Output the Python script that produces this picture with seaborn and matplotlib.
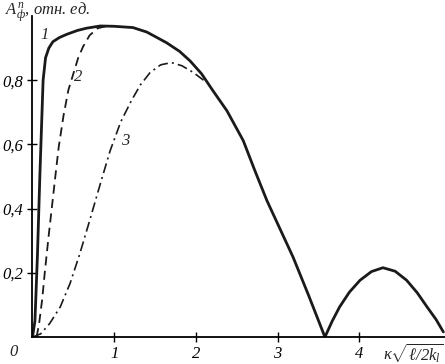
import matplotlib
matplotlib.use("Agg")
import matplotlib.pyplot as plt
import pandas as pd
import seaborn as sns

# curve 1 (solid)
x1 = [0.0, 0.03, 0.06, 0.09, 0.11, 0.13, 0.16, 0.2, 0.25, 0.33, 0.42, 0.55, 0.66, 0.83, 1.0, 1.23,
      1.4, 1.64, 1.8, 1.93, 2.07, 2.21, 2.38, 2.58, 2.72, 2.87, 3.03, 3.19, 3.38, 3.58,
      3.67, 3.76, 3.88, 4.01, 4.15, 4.29, 4.44, 4.58, 4.71, 4.83, 4.94, 5.03]
y1 = [0.0, 0.05, 0.25, 0.5, 0.65, 0.8, 0.87, 0.9, 0.92, 0.933, 0.943, 0.955, 0.962, 0.969, 0.968, 0.964,
      0.95, 0.917, 0.89, 0.86, 0.82, 0.767, 0.705, 0.612, 0.52, 0.425, 0.337, 0.249, 0.13, 0.0,
      0.05, 0.094, 0.14, 0.177, 0.204, 0.216, 0.205, 0.177, 0.138, 0.094, 0.055, 0.016]

# curve 2 (dashed)
x2 = [0.05, 0.08, 0.12, 0.15, 0.2, 0.24, 0.275, 0.32, 0.38, 0.44, 0.5, 0.56, 0.62, 0.7, 0.8, 0.9]
y2 = [0.0, 0.04, 0.12, 0.2, 0.32, 0.41, 0.49, 0.59, 0.69, 0.77, 0.82, 0.87, 0.905, 0.94, 0.962, 0.968]

# curve 3 (dash-dot)
x3 = [0.0, 0.1, 0.21, 0.34, 0.46, 0.58, 0.7, 0.83, 0.95, 1.08, 1.21, 1.32, 1.44, 1.57, 1.7,
      1.83, 1.97, 2.13]
y3 = [0.0, 0.01, 0.042, 0.094, 0.167, 0.26, 0.363, 0.477, 0.58, 0.67, 0.736, 0.785, 0.824, 0.848, 0.855,
      0.845, 0.824, 0.793]

yticks = [0.2, 0.4, 0.6, 0.8]
yticklabels = ["0,2", "0,4", "0,6", "0,8"]
xticks = [1, 2, 3, 4]
xticklabels = ["1", "2", "3", "4"]

sns.set_style("ticks")
plt.rcParams["font.family"] = ["Liberation Serif", "DejaVu Serif"]
plt.rcParams["font.style"] = "italic"
plt.rcParams["mathtext.fontset"] = "custom"
plt.rcParams["mathtext.rm"] = "Liberation Serif"
plt.rcParams["mathtext.it"] = "Liberation Serif:italic"

fig = plt.figure(figsize=(4.45, 3.64), dpi=100)
ax = fig.add_axes([0.073, 0.074, 0.927, 0.882])

d1 = pd.DataFrame({"x": x1, "y": y1})
d2 = pd.DataFrame({"x": x2, "y": y2})
d3 = pd.DataFrame({"x": x3, "y": y3})
sns.lineplot(data=d1, x="x", y="y", ax=ax, sort=False, estimator=None, color="#1a1a1a", lw=2.0)
sns.lineplot(data=d2, x="x", y="y", ax=ax, sort=False, estimator=None, color="#1a1a1a", lw=1.3)
ax.lines[-1].set_dashes((5, 3))
sns.lineplot(data=d3, x="x", y="y", ax=ax, sort=False, estimator=None, color="#1a1a1a", lw=1.2)
ax.lines[-1].set_dashes((6, 2.5, 1.2, 2.5))

ax.set_xlim(0, 5.05)
ax.set_ylim(0, 1.0)
sns.despine(ax=ax)
for s in ["left", "bottom"]:
    ax.spines[s].set_linewidth(1.3)
    ax.spines[s].set_color("black")

ax.set_xticks(xticks)
ax.set_xticklabels(xticklabels)
ax.set_yticks(yticks)
ax.set_yticklabels(yticklabels)
ax.tick_params(direction="inout", length=7, width=1, labelsize=12, colors="black", pad=3)
ax.tick_params(axis="y", pad=3)
ax.set_xlabel("")
ax.set_ylabel("")

ax.text(-0.28, -0.048, "0", fontsize=12, ha="left", va="center", clip_on=False)
ax.text(5.03, -0.05, r"$\kappa\sqrt{\ell/2k_l}$", fontsize=12, ha="right", va="center", clip_on=False)
ax.text(-0.34, 1.008, r"$A^{п}_{ф}$, отн. ед.", fontsize=12, ha="left", va="center", clip_on=False)

ax.text(0.15, 0.94, "1", fontsize=12, ha="center", va="center")
ax.text(0.56, 0.81, "2", fontsize=12, ha="center", va="center")
ax.text(1.13, 0.61, "3", fontsize=12, ha="center", va="center")

fig.savefig("out.png", dpi=100)
